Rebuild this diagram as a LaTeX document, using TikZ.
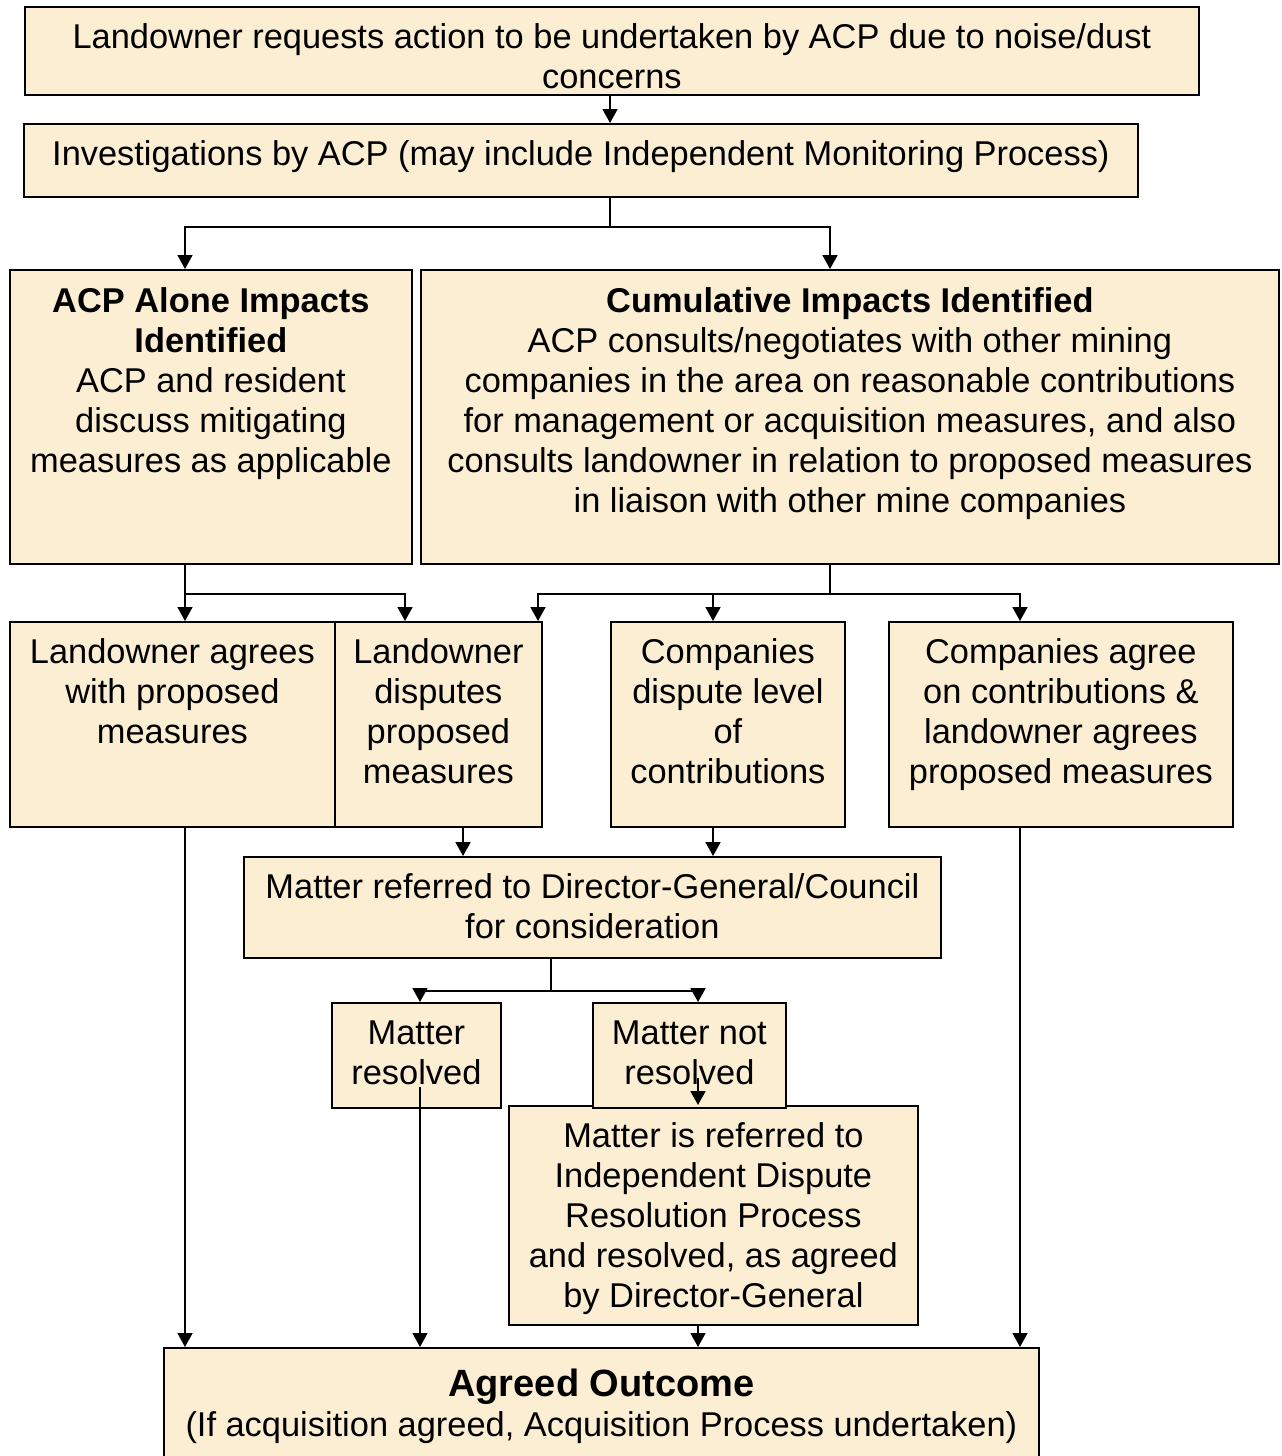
\documentclass[tikz,border=0pt]{standalone}
\usepackage{fontspec}
\setmainfont{Liberation Sans}
\usepackage{tikz}
\usetikzlibrary{arrows.meta}
\definecolor{parch}{RGB}{251,238,210}
\tikzstyle{block} = [rectangle, draw, line width=1.8pt, fill=parch, anchor=north west, inner sep=0pt, align=flush center, text height=42pt, font=\fontsize{34.4}{40}\selectfont]
\tikzstyle{line} = [draw, line width=1.8pt, -{Triangle[length=14pt,width=15pt]}]
\tikzstyle{wire} = [draw, line width=1.8pt]

\begin{document}
\begin{tikzpicture}[x=1pt, y=-1pt]
\useasboundingbox (0,0) rectangle (1282,1456);
\node [block, text width=1174pt, text depth=46pt] (request) at (24,6) {Landowner requests action to be undertaken by ACP due to noise/dust\\concerns};
\node [block, text width=1114pt, text depth=31pt] (invest) at (23,123) {Investigations by ACP (may include Independent Monitoring Process)};
\node [block, text width=402pt, text height=43pt, text depth=251pt] (acp) at (9,269) {\textbf{ACP Alone Impacts}\\\textbf{Identified}\\ACP and resident\\discuss mitigating\\measures as applicable};
\node [block, text width=858pt, text height=43pt, text depth=251pt] (cum) at (420,269) {\textbf{Cumulative Impacts Identified}\\ACP consults/negotiates with other mining\\companies in the area on reasonable contributions\\for management or acquisition measures, and also\\consults landowner in relation to proposed measures\\in liaison with other mine companies};
\node [block, text width=325pt, text depth=163pt] (agree) at (9,621) {Landowner agrees\\with proposed\\measures};
\node [block, text width=207pt, text depth=163pt] (disp) at (334,621) {Landowner\\disputes\\proposed\\measures};
\node [block, text width=234pt, text depth=163pt] (cdisp) at (610,621) {Companies\\dispute level\\of\\contributions};
\node [block, text width=344pt, text depth=163pt] (cagree) at (888,621) {Companies agree\\on contributions \&\\landowner agrees\\proposed measures};
\node [block, text width=697pt, text depth=59pt] (mref) at (243,856) {Matter referred to Director-General/Council\\for consideration};
\node [block, text width=409pt, text depth=177pt] (idr) at (508,1105) {Matter is referred to\\Independent Dispute\\Resolution Process\\and resolved, as agreed\\by Director-General};
\node [block, text width=169pt, text depth=63pt] (res) at (331,1002) {Matter\\resolved};
\node [block, text width=193pt, text depth=63pt] (notres) at (592,1002) {Matter not\\resolved};
\node [block, text width=875pt, text height=49pt, text depth=74pt] (outcome) at (163,1347) {{\fontsize{38}{40}\selectfont\bfseries Agreed Outcome}\\(If acquisition agreed, Acquisition Process undertaken)};
% lanes for the connectors
\coordinate (xA) at (185,0);
\coordinate (xB) at (405,0);
\coordinate (xC) at (538,0);
\coordinate (xD) at (713,0);
\coordinate (xE) at (1020,0);
\coordinate (xM) at (610,0);
\coordinate (xR) at (830,0);
\coordinate (xS) at (551,0);
\coordinate (xT) at (420,0);
\coordinate (xU) at (698,0);
\coordinate (xV) at (463,0);
% Draw the edges
\path [line] (xM |- request.south) -- (xM |- invest.north);
\path [wire] (xM |- invest.south) -- ++(0,29) coordinate (busA);
\path [line] (busA) -| (xA |- acp.north);
\path [line] (busA) -| (xR |- cum.north);
\path [wire] (xA |- acp.south) -- ++(0,29) coordinate (busB);
\path [line] (busB) -- (xA |- agree.north);
\path [line] (busB) -| (xB |- disp.north);
\path [wire] (xR |- cum.south) -- ++(0,29) coordinate (busC);
\path [line] (busC) -| (xC |- disp.north);
\path [line] (busC) -| (xD |- cdisp.north);
\path [line] (busC) -| (xE |- cagree.north);
\path [line] (xA |- agree.south) -- (xA |- outcome.north);
\path [line] (xV |- disp.south) -- (xV |- mref.north);
\path [line] (xD |- cdisp.south) -- (xD |- mref.north);
\path [line] (xE |- cagree.south) -- (xE |- outcome.north);
\path [wire] (xS |- mref.south) -- ++(0,32) coordinate (busD);
\path [line] (busD) -| (xT |- res.north);
\path [line] (busD) -| (xU |- notres.north);
\path [line] ([yshift=22pt]xT |- res.south) -- (xT |- outcome.north);
\path [line] ([yshift=31pt]xU |- notres.south) -- (xU |- idr.north);
\path [line] (xU |- idr.south) -- (xU |- outcome.north);
\end{tikzpicture}
\end{document}
